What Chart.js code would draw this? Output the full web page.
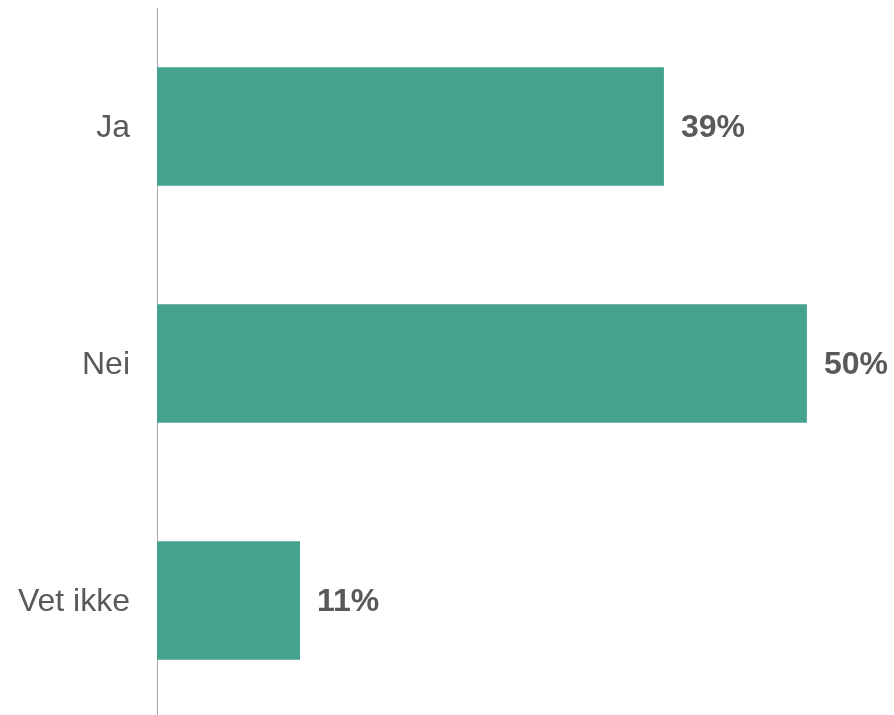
<!DOCTYPE html>
<html>
<head>
<meta charset="utf-8">
<script src="https://cdn.jsdelivr.net/npm/chart.js@4"></script>
<style>
  html, body { margin: 0; padding: 0; background: #fff; overflow: hidden; }
  #wrap { width: 894px; height: 719px; }
</style>
</head>
<body>
<div id="wrap"><canvas id="surveyChart"></canvas></div>
<script>
const categories = ["Ja", "Nei", "Vet ikke"];
const shares = [39, 50, 11];

const valueLabels = {
  id: "valueLabels",
  afterDatasetsDraw(chart) {
    const ctx = chart.ctx;
    const meta = chart.getDatasetMeta(0);
    ctx.save();
    ctx.font = "bold 32px 'Liberation Sans', Arial, sans-serif";
    ctx.fillStyle = "#595959";
    ctx.textAlign = "left";
    ctx.textBaseline = "middle";
    meta.data.forEach((bar, i) => {
      ctx.fillText(shares[i] + "%", bar.x + 17, bar.y + 2);
    });
    ctx.restore();
  },
};

const ctx = document.getElementById("surveyChart");
new Chart(ctx, {
  type: "bar",
  data: {
    labels: categories,
    datasets: [
      {
        data: shares,
        backgroundColor: "#45A28F",
        categoryPercentage: 0.5,
        barPercentage: 1.0,
      },
    ],
  },
  options: {
    indexAxis: "y",
    responsive: true,
    maintainAspectRatio: false,
    animation: false,
    layout: { padding: { top: 8, bottom: 0, left: 0, right: 0 } },
    plugins: {
      legend: { display: false },
      tooltip: { enabled: false },
    },
    scales: {
      x: {
        min: 0,
        max: 56.7,
        display: false,
        grid: { display: false },
      },
      y: {
        grid: { display: false, drawTicks: false },
        border: { display: true, color: "#A6A6A6", width: 1 },
        ticks: {
          color: "#595959",
          padding: 27,
          labelOffset: 2,
          font: { family: "'Liberation Sans', Arial, sans-serif", size: 32 },
        },
        afterFit(scale) {
          scale.width = 157;
          scale.paddingTop = 0;
          scale.paddingBottom = 0;
        },
      },
    },
  },
  plugins: [valueLabels],
});
</script>
</body>
</html>
